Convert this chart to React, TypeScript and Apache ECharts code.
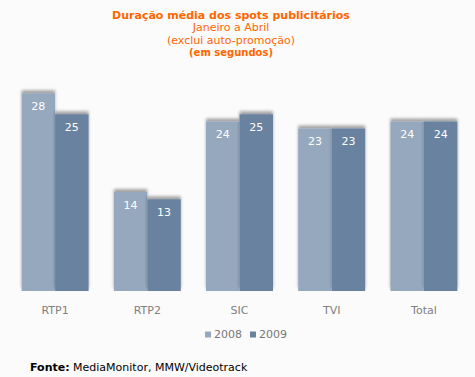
import React, { useEffect, useRef } from "react";
import * as echarts from "echarts";

const categories = ["RTP1", "RTP2", "SIC", "TVI", "Total"];
const values2008 = [28, 14, 24, 23, 24];
const values2009 = [25, 13, 25, 23, 24];
const seriesNames = ["2008", "2009"];
const titleLines = ["Duração média dos spots publicitários", "Janeiro a Abril", "(exclui auto-promoção)", "(em segundos)"];

const FONT = "DejaVu Sans, Verdana, sans-serif";

export default function App() {
  const ref = useRef<HTMLDivElement>(null);
  useEffect(() => {
    const chart = echarts.init(ref.current!, null, { renderer: "svg" });
    const barStyle = (color: string) => ({
      color,
      shadowColor: "rgba(0,0,0,0.35)",
      shadowBlur: 3,
      shadowOffsetY: -3,
    });
    const label = {
      show: true,
      position: "insideTop",
      distance: 8,
      color: "#ffffff",
      fontFamily: FONT,
      fontSize: 11,
    };
    const tline = (text: string, y: number, font: string) => ({
      type: "text",
      x: 231,
      y,
      style: { text, fill: "#ff6600", font, textAlign: "center", textVerticalAlign: "middle" },
    });
    chart.setOption({
      animation: false,
      backgroundColor: "#fbfbfb",
      graphic: [
        tline(titleLines[0], 15, `bold 11px ${FONT}`),
        tline(titleLines[1], 27, `11px ${FONT}`),
        tline(titleLines[2], 40, `11px ${FONT}`),
        tline(titleLines[3], 52, `bold 10px ${FONT}`),
        {
          type: "text",
          left: 30,
          top: 362,
          style: {
            text: "{b|Fonte:} MediaMonitor, MMW/Videotrack",
            fill: "#000",
            font: `11px ${FONT}`,
            rich: { b: { fontWeight: "bold", fontFamily: FONT, fontSize: 11, fill: "#000" } },
          },
        },
      ],
      legend: {
        data: seriesNames,
        bottom: 32,
        left: 200,
        itemWidth: 6,
        itemHeight: 6,
        itemGap: 8,
        icon: "rect",
        textStyle: { color: "#777", fontFamily: FONT, fontSize: 11, padding: [0, 0, 0, -2] },
      },
      grid: { left: 9, right: 5, top: 79, bottom: 86 },
      xAxis: {
        type: "category",
        data: categories,
        axisLine: { show: false },
        axisTick: { show: false },
        axisLabel: { color: "#808080", fontFamily: FONT, fontSize: 11, margin: 14 },
      },
      yAxis: {
        type: "value",
        min: 0,
        max: 30,
        show: false,
        splitLine: { show: false },
      },
      series: [
        {
          name: seriesNames[0],
          type: "bar",
          data: values2008,
          barWidth: 33.5,
          barGap: "0%",
          itemStyle: barStyle("#96a8be"),
          label,
        },
        {
          name: seriesNames[1],
          type: "bar",
          data: values2009,
          barWidth: 33.5,
          barGap: "0%",
          itemStyle: barStyle("#67829f"),
          label,
        },
      ],
    });
    return () => chart.dispose();
  }, []);
  return <div ref={ref} style={{ position: "absolute", left: 0, top: 0, width: 475, height: 377 }} />;
}
